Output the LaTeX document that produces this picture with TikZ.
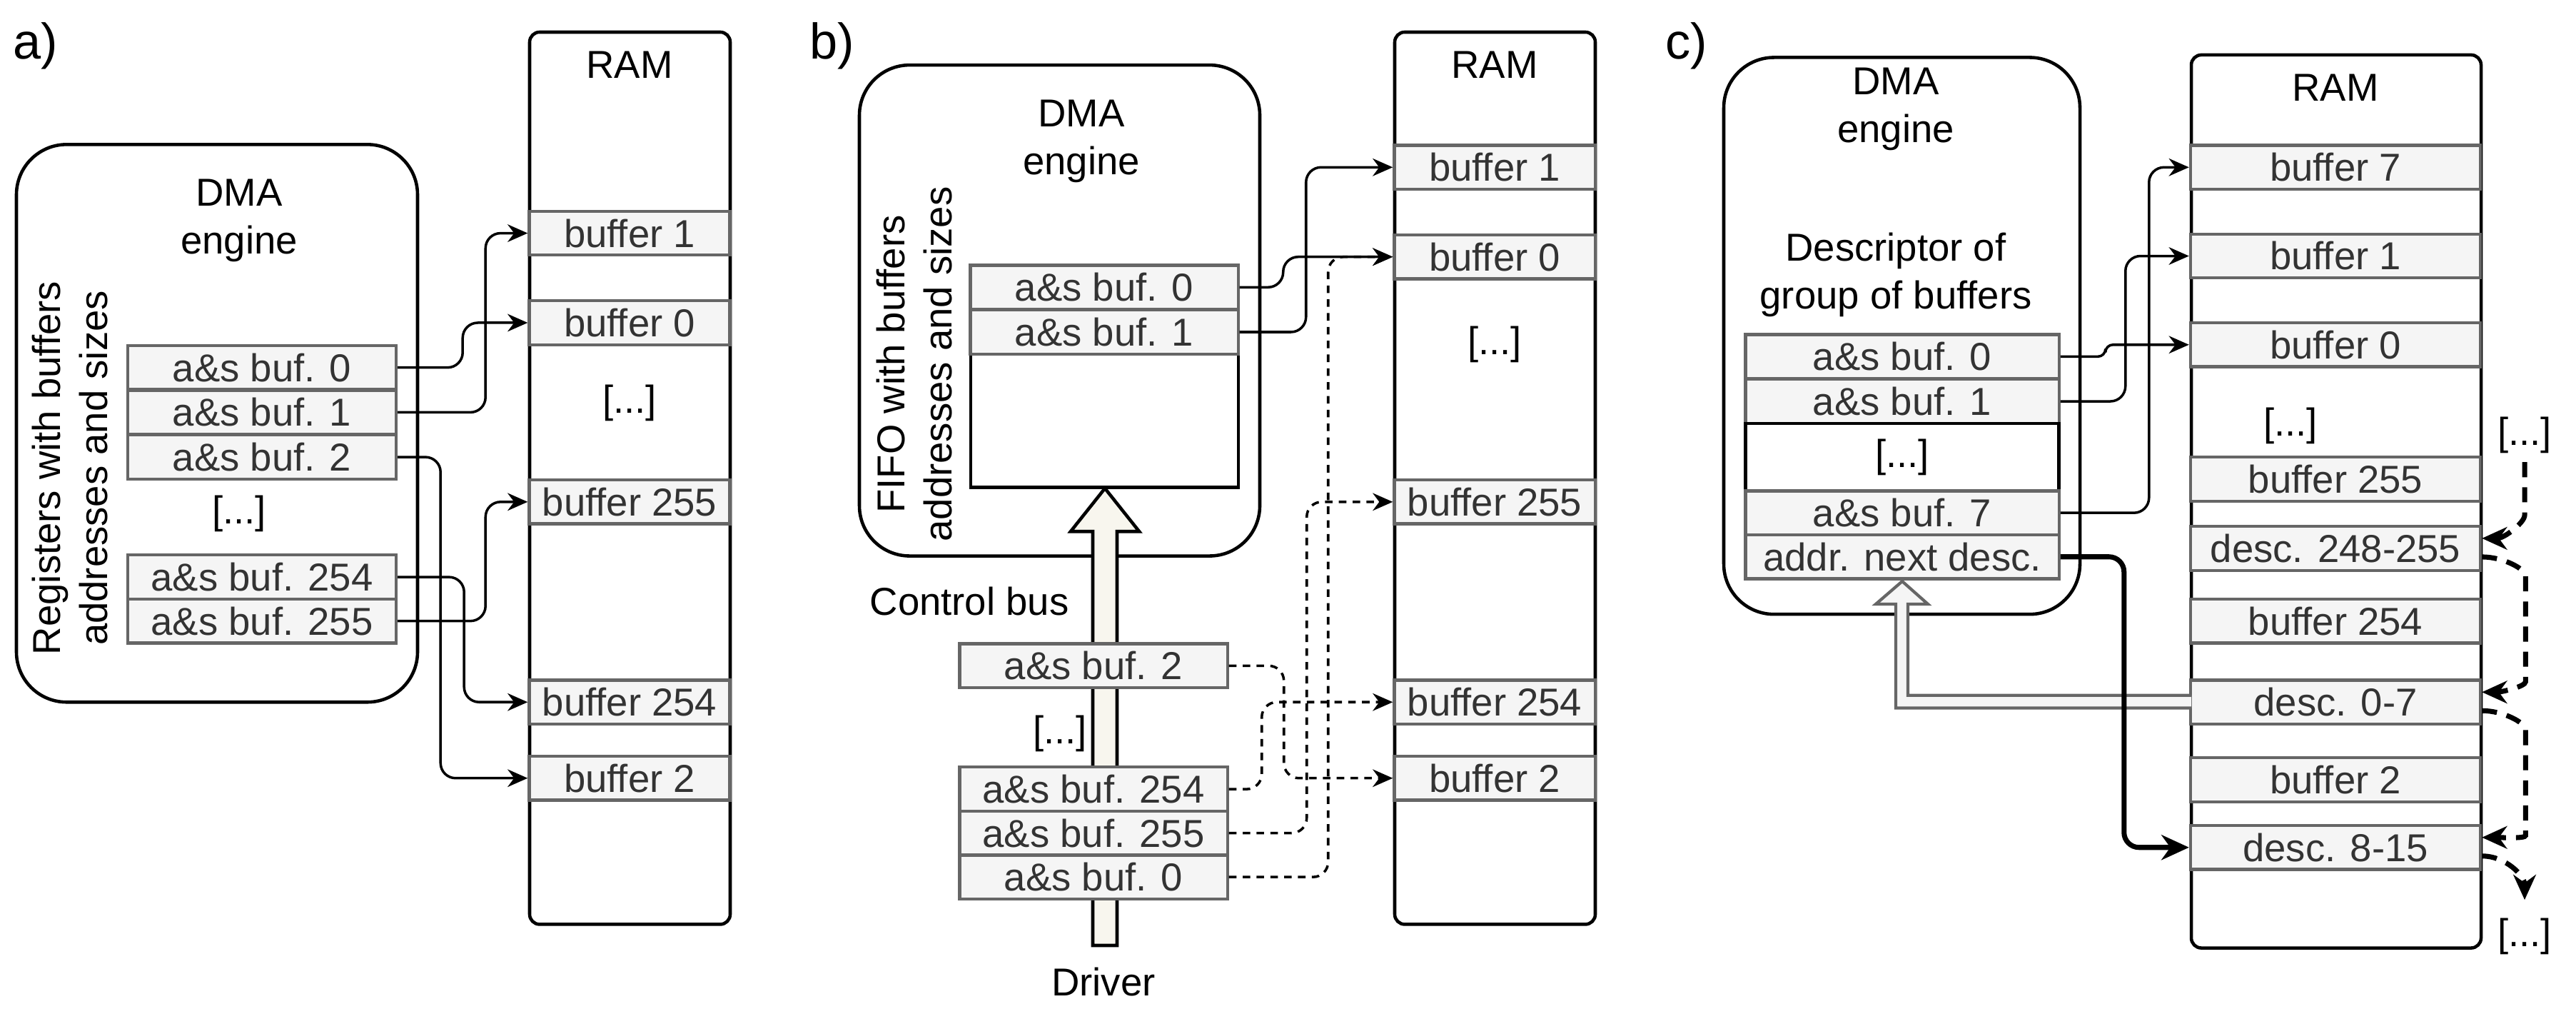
\documentclass[tikz,border=0pt]{standalone}
\usepackage{fontspec}
\setmainfont{Liberation Sans}
\usetikzlibrary{arrows.meta}

\definecolor{boxfill}{HTML}{F5F5F5}
\definecolor{boxline}{HTML}{666666}
\definecolor{boxtext}{HTML}{333333}
\definecolor{busfill}{HTML}{F8F6EE}

\tikzset{
  lbl/.style={font=\fontsize{15.5}{19}\selectfont},
  reg/.style={lbl,draw=boxline,fill=boxfill,text=boxtext,line width=1.2pt,minimum height=0.615cm,inner sep=0pt},
  regA/.style={reg,minimum width=3.76cm},
  regB/.style={reg,minimum width=3.75cm},
  regC/.style={reg,minimum width=4.39cm},
  bufA/.style={reg,minimum width=2.81cm},
  bufC/.style={reg,minimum width=4.06cm},
  conn/.style={-{Stealth[length=8pt,width=7pt]},line width=1pt,rounded corners=6pt},
  dconn/.style={conn,dash pattern=on 3pt off 2.5pt},
  tconn/.style={conn,line width=2pt,-{Stealth[length=11pt,width=10pt]}},
  tdash/.style={conn,line width=2pt,dash pattern=on 6pt off 4pt,-{Stealth[length=10pt,width=9pt]}},
  unit/.style={draw,line width=1.3pt,rounded corners=20pt},
  ram/.style={draw,line width=1.3pt,rounded corners=4pt}
}

\begin{document}
\begin{tikzpicture}[x=0.01cm,y=-0.011825cm]
    \useasboundingbox (0,0) rectangle (3609,1200);

    %% a)
    \node[lbl,font=\fontsize{20}{22}\selectfont] (la) at (50,54) {a)};
    \draw[unit] (23,171) rectangle (585,831);
    \node[lbl,align=center] (dmaA) at (335,261) {DMA\\engine};
    \node[lbl,rotate=90,align=center] (txtA) at (98,554) {Registers with buffers\\addresses and sizes};
    \node[regA] (a0) at (367,435) {a\&s buf. 0};
    \node[regA] (a1) at (367,488) {a\&s buf. 1};
    \node[regA] (a2) at (367,541) {a\&s buf. 2};
    \node[lbl] (adots) at (335,608) {[...]};
    \node[regA] (a254) at (367,683) {a\&s buf. 254};
    \node[regA] (a255) at (367,735) {a\&s buf. 255};

    \draw[ram] (742,38) rectangle (1023,1094);
    \node[lbl] (ramA) at (882,77) {RAM};
    \node[bufA] (ma1) at (882,276) {buffer 1};
    \node[bufA] (ma0) at (882,382) {buffer 0};
    \node[lbl] (madots) at (882,477) {[...]};
    \node[bufA] (ma255) at (882,594) {buffer 255};
    \node[bufA] (ma254) at (882,831) {buffer 254};
    \node[bufA] (ma2) at (882,921) {buffer 2};

    \draw[conn] (a0.east) -- ++(91,0) |- (ma0.west);
    \draw[conn] (a1.east) -- ++(123,0) |- (ma1.west);
    \draw[conn] (a2.east) -- ++(60,0) |- (ma2.west);
    \draw[conn] (a254.east) -- ++(93,0) |- (ma254.west);
    \draw[conn] (a255.east) -- ++(123,0) |- (ma255.west);

    %% b)
    \node[lbl,font=\fontsize{20}{22}\selectfont] (lb) at (1166,54) {b)};
    \draw[unit] (1204,77) rectangle (1765,658);
    \node[lbl,align=center] (dmaB) at (1515,167) {DMA\\engine};
    \node[lbl,rotate=90,align=center] (txtB) at (1281,431) {FIFO with buffers\\addresses and sizes};
    \draw[line width=1.3pt] (1360,419) rectangle (1735,577);
    \node[regB] (b0) at (1547,340) {a\&s buf. 0};
    \node[regB] (b1) at (1547,393) {a\&s buf. 1};

    \draw[line width=1.3pt,fill=busfill] (1531,1119) -- (1531,629) -- (1500,629) -- (1548,578)
        -- (1596,629) -- (1565,629) -- (1565,1119) -- cycle;
    \node[lbl] (bus) at (1358,712) {Control bus};
    \node[lbl] (drv) at (1546,1162) {Driver};
    \node[regB] (q2) at (1532,788) {a\&s buf. 2};
    \node[lbl] (qdots) at (1485,868) {[...]};
    \node[regB] (q254) at (1532,934) {a\&s buf. 254};
    \node[regB] (q255) at (1532,986) {a\&s buf. 255};
    \node[regB] (q0) at (1532,1038) {a\&s buf. 0};

    \draw[ram] (1954,38) rectangle (2235,1094);
    \node[lbl] (ramB) at (2094,77) {RAM};
    \node[bufA] (mb1) at (2094,198) {buffer 1};
    \node[bufA] (mb0) at (2094,304) {buffer 0};
    \node[lbl] (mbdots) at (2094,408) {[...]};
    \node[bufA] (mb255) at (2094,594) {buffer 255};
    \node[bufA] (mb254) at (2094,831) {buffer 254};
    \node[bufA] (mb2) at (2094,921) {buffer 2};

    \draw[conn] (b0.east) -- ++(61,0) |- (mb0.west);
    \draw[conn] (b1.east) -- ++(93,0) |- (mb1.west);
    \draw[dconn] (q2.east) -- ++(77,0) |- (mb2.west);
    \draw[dconn] (q254.east) -- ++(46,0) |- (mb254.west);
    \draw[dconn] (q255.east) -- ++(109,0) |- (mb255.west);
    \draw[dconn] (q0.east) -- ++(139,0) |- (mb0.west);

    %% c)
    \node[lbl,font=\fontsize{20}{22}\selectfont] (lc) at (2363,54) {c)};
    \draw[unit] (2415,68) rectangle (2914,727);
    \node[lbl,align=center] (dmaC) at (2656,129) {DMA\\engine};
    \node[lbl,align=center] (desc) at (2656,325) {Descriptor of\\group of buffers};
    \node[regC] (c0) at (2665,422) {a\&s buf. 0};
    \node[regC] (c1) at (2665,475) {a\&s buf. 1};
    \node[lbl,draw,line width=1.3pt,minimum width=4.39cm,minimum height=0.946cm,inner sep=0pt] (cdots) at (2665,541) {[...]};
    \node[regC] (c7) at (2665,607) {a\&s buf. 7};
    \node[regC] (cn) at (2665,659) {addr. next desc.};

    \draw[ram] (3070,65) rectangle (3476,1122);
    \node[lbl] (ramC) at (3272,104) {RAM};
    \node[bufC] (mc7) at (3272,198) {buffer 7};
    \node[bufC] (mc1) at (3272,303) {buffer 1};
    \node[bufC] (mc0) at (3272,408) {buffer 0};
    \node[lbl] (mcdots) at (3209,504) {[...]};
    \node[bufC] (mc255) at (3272,567) {buffer 255};
    \node[bufC] (d248) at (3272,649) {desc. 248-255};
    \node[bufC] (mc254) at (3272,735) {buffer 254};
    \node[bufC] (d0) at (3272,831) {desc. 0-7};
    \node[bufC] (mc2) at (3272,923) {buffer 2};
    \node[bufC] (d8) at (3272,1003) {desc. 8-15};

    \draw[conn,rounded corners=3pt] (c0.east) -- ++(63,0) |- (mc0.west);
    \draw[conn] (c1.east) -- ++(91,0) |- (mc1.west);
    \draw[conn] (c7.east) -- ++(124,0) |- (mc7.west);

    % hollow arrow back to the engine
    \draw[line width=1.2pt,draw=boxline,fill=boxfill] (3070,823) -- (2673,823) -- (2673,715) -- (2701,715)
        -- (2665,688) -- (2628,715) -- (2656,715) -- (2656,838) -- (3070,838);
    \draw[tconn] (cn.east) -- ++(89,0) |- (d8.west);

    \node[lbl] (topdots) at (3537,515) {[...]};
    \node[lbl] (botdots) at (3537,1108) {[...]};
    \coordinate (dend) at (3537,1065);
    \draw[tdash] (topdots.south) -- ++(0,45) to[out=-90,in=0] ([yshift=0.14cm]d248.east);
    \draw[tdash] ([yshift=-0.12cm]d248.east) to[out=0,in=90] ++(61,40) -- ++(0,90) to[out=-90,in=0] ([yshift=0.14cm]d0.east);
    \draw[tdash] ([yshift=-0.12cm]d0.east) to[out=0,in=90] ++(61,40) -- ++(0,90) to[out=-90,in=0] ([yshift=0.14cm]d8.east);
    \draw[tdash] ([yshift=-0.12cm]d8.east) to[out=0,in=90] (dend);
\end{tikzpicture}
\end{document}
